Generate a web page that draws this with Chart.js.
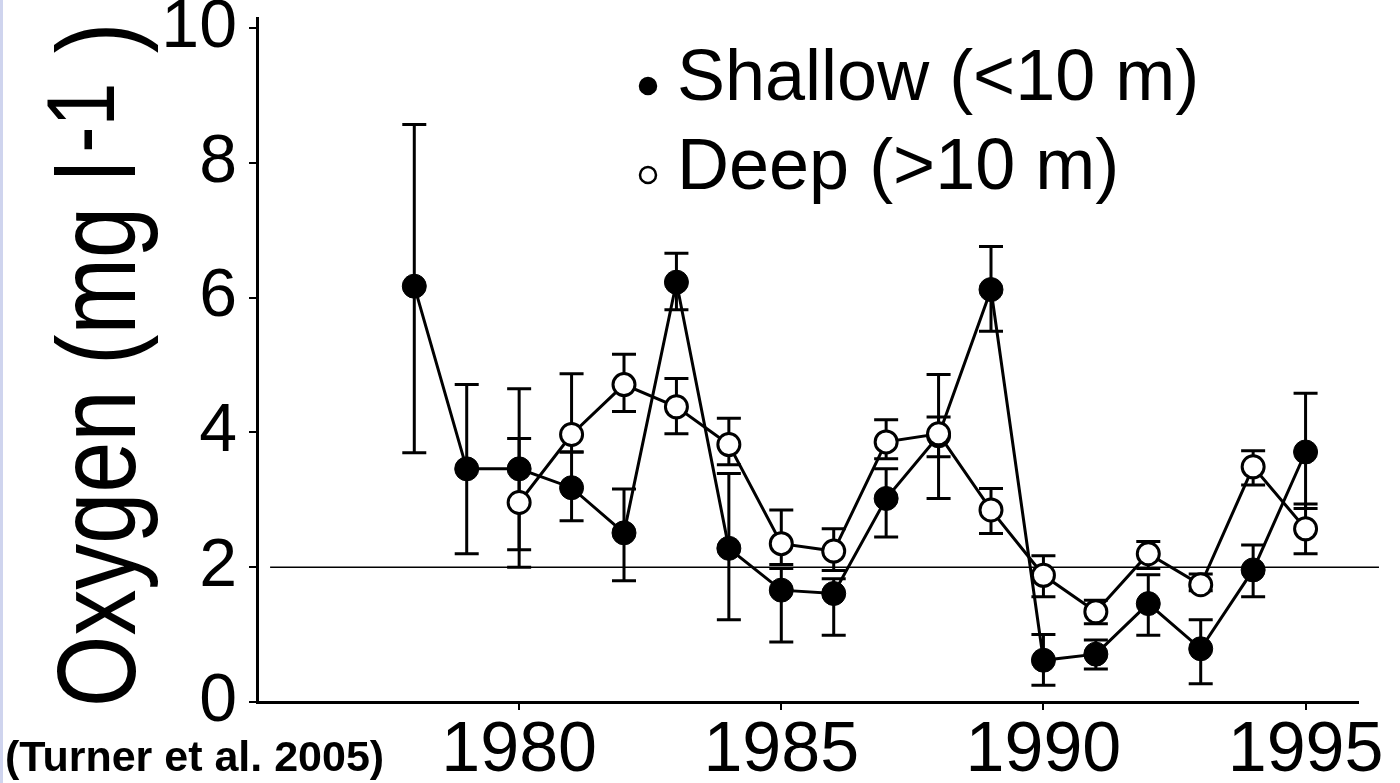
<!DOCTYPE html>
<html>
<head>
<meta charset="utf-8">
<script src="https://cdn.jsdelivr.net/npm/chart.js@4.4.0/dist/chart.umd.min.js"></script>
<style>
    html, body { margin: 0; padding: 0; background: #fff; }
    body { width: 1400px; height: 783px; overflow: hidden; border-left: 3px solid #cfd4ee; box-sizing: border-box; }
    #wrap { position: relative; width: 1397px; height: 783px; }
</style>
</head>
<body>
<div id="wrap"><canvas id="oxygenChart"></canvas></div>
<script>
// --- data ---
const shallowYears = [1978, 1979, 1980, 1981, 1982, 1983, 1984, 1985, 1986, 1987, 1988, 1989, 1990, 1991, 1992, 1993, 1994, 1995];
const shallowMean = [6.17, 3.46, 3.46, 3.18, 2.51, 6.23, 2.28, 1.66, 1.61, 3.02, 3.95, 6.12, 0.62, 0.71, 1.46, 0.79, 1.96, 3.71];
const shallowHigh = [8.57, 4.71, 4.65, 3.71, 3.16, 6.66, 3.39, 1.98, 1.83, 3.46, 4.86, 6.76, 1.00, 0.92, 1.89, 1.22, 2.33, 4.58];
const shallowLow  = [3.70, 2.20, 2.00, 2.69, 1.80, 5.82, 1.22, 0.89, 0.99, 2.45, 3.02, 5.50, 0.25, 0.49, 0.99, 0.27, 1.56, 2.87];

const deepYears = [1980, 1981, 1982, 1983, 1984, 1985, 1986, 1987, 1988, 1989, 1990, 1991, 1992, 1993, 1994, 1995];
const deepMean = [2.96, 3.97, 4.71, 4.38, 3.82, 2.35, 2.24, 3.86, 3.98, 2.85, 1.88, 1.34, 2.20, 1.74, 3.49, 2.57];
const deepHigh = [3.91, 4.87, 5.16, 4.80, 4.21, 2.85, 2.57, 4.19, 4.23, 3.17, 2.17, 1.51, 2.38, 1.90, 3.73, 2.94];
const deepLow  = [2.26, 3.71, 4.31, 3.98, 3.52, 2.04, 1.95, 3.61, 3.64, 2.50, 1.56, 1.16, 1.98, 1.65, 3.22, 2.20];

const xTicks = [1980, 1985, 1990, 1995];
const yTicks = [0, 2, 4, 6, 8, 10];
const thresholdLevel = 2;

const FONT = '"Liberation Sans", Arial, Helvetica, sans-serif';

function toPoints(xs, ys) {
    return xs.map((x, i) => ({ x: x, y: ys[i] }));
}

// error bars + threshold line, drawn under the markers
const errorBarPlugin = {
    id: 'errorBars',
    beforeDatasetsDraw(chart) {
        const ctx = chart.ctx;
        const xs = chart.scales.x, ys = chart.scales.y;
        ctx.save();

        // 2 mg/l line
        ctx.strokeStyle = '#000';
        ctx.lineWidth = 1.6;
        ctx.beginPath();
        const yl = ys.getPixelForValue(thresholdLevel);
        ctx.moveTo(xs.getPixelForValue(1975.25), yl);
        ctx.lineTo(xs.getPixelForValue(1996.4), yl);
        ctx.stroke();

        const sets = [
            [shallowYears, shallowHigh, shallowLow],
            [deepYears, deepHigh, deepLow]
        ];
        ctx.lineWidth = 3;
        const cap = 12;
        sets.forEach(([yrs, hi, lo]) => {
            yrs.forEach((yr, i) => {
                const px = xs.getPixelForValue(yr);
                const top = ys.getPixelForValue(hi[i]);
                const bot = ys.getPixelForValue(lo[i]);
                ctx.beginPath();
                ctx.moveTo(px, top); ctx.lineTo(px, bot);
                ctx.moveTo(px - cap, top); ctx.lineTo(px + cap, top);
                ctx.moveTo(px - cap, bot); ctx.lineTo(px + cap, bot);
                ctx.stroke();
            });
        });
        ctx.restore();
    }
};

// axis title with superscript, legend and citation
const textPlugin = {
    id: 'extraText',
    afterDraw(chart) {
        const ctx = chart.ctx;
        ctx.save();
        ctx.fillStyle = '#000';

        // y title, rotated; the source lettering is tall and narrow
        ctx.save();
        ctx.translate(132, 707);
        ctx.rotate(-Math.PI / 2);
        ctx.scale(0.82, 1);
        ctx.textBaseline = 'alphabetic';
        ctx.textAlign = 'left';
        ctx.font = '112px ' + FONT;
        const main = 'Oxygen (mg l';
        ctx.fillText(main, 0, 0);
        let w = ctx.measureText(main).width;
        ctx.font = '96px ' + FONT;
        ctx.fillText('-1', w + 10, -21);
        w += ctx.measureText('-1').width + 46;
        ctx.font = '112px ' + FONT;
        ctx.fillText(')', w, 0);
        ctx.restore();

        // legend
        const rows = [
            { label: chart.data.datasets[0].label, filled: true, y: 100 },
            { label: chart.data.datasets[1].label, filled: false, y: 189 }
        ];
        ctx.font = '72px ' + FONT;
        ctx.textBaseline = 'alphabetic';
        rows.forEach(r => {
            ctx.beginPath();
            ctx.arc(645, r.y - 14, 8, 0, Math.PI * 2);
            ctx.fillStyle = r.filled ? '#000' : '#fff';
            ctx.fill();
            ctx.lineWidth = 2.5;
            ctx.strokeStyle = '#000';
            ctx.stroke();
            ctx.fillStyle = '#000';
            ctx.fillText(r.label, 674, r.y);
        });

        // citation
        ctx.font = 'bold 43px ' + FONT;
        ctx.fillText('(Turner et al. 2005)', 2, 771);
        ctx.restore();
    }
};

function buildChart() {
    const el = document.getElementById('oxygenChart');
    new Chart(el, {
        type: 'line',
        data: {
            datasets: [
                {
                    label: 'Shallow (<10 m)',
                    data: toPoints(shallowYears, shallowMean),
                    borderColor: '#000',
                    borderWidth: 3,
                    pointStyle: 'circle',
                    pointRadius: 12,
                    pointBackgroundColor: '#000',
                    pointBorderColor: '#000',
                    pointBorderWidth: 1,
                    tension: 0,
                    clip: false,
                    order: 2
                },
                {
                    label: 'Deep (>10 m)',
                    data: toPoints(deepYears, deepMean),
                    borderColor: '#000',
                    borderWidth: 3,
                    pointStyle: 'circle',
                    pointRadius: 11,
                    pointBackgroundColor: '#fff',
                    pointBorderColor: '#000',
                    pointBorderWidth: 3,
                    tension: 0,
                    clip: false,
                    order: 1
                }
            ]
        },
        options: {
            responsive: false,
            animation: false,
            events: [],
            layout: { padding: { top: 18, right: 42, left: 0, bottom: 0 } },
            plugins: { legend: { display: false }, tooltip: { enabled: false } },
            scales: {
                x: {
                    type: 'linear',
                    min: 1975,
                    max: 1996,
                    afterBuildTicks: s => { s.ticks = xTicks.map(v => ({ value: v })); },
                    afterFit: s => { s.height = 81; s.paddingLeft = 0; s.paddingRight = 0; },
                    grid: { drawOnChartArea: false, drawTicks: true, tickLength: 8, color: '#000', lineWidth: 2 },
                    border: { display: true, color: '#000', width: 3 },
                    ticks: {
                        color: '#000',
                        font: { family: FONT, size: 70 },
                        padding: 0,
                        maxRotation: 0,
                        callback: v => String(v)
                    }
                },
                y: {
                    type: 'linear',
                    min: 0,
                    max: 10.15,
                    afterBuildTicks: s => { s.ticks = yTicks.map(v => ({ value: v })); },
                    afterFit: s => { s.width = 254; s.paddingTop = 0; s.paddingBottom = 0; },
                    grid: { drawOnChartArea: false, drawTicks: true, tickLength: 8, color: '#000', lineWidth: 2 },
                    border: { display: true, color: '#000', width: 3 },
                    ticks: {
                        color: '#000',
                        font: { family: FONT, size: 68 },
                        padding: 12,
                        callback: v => String(v)
                    }
                }
            }
        },
        plugins: [errorBarPlugin, textPlugin]
    });
}

const c = document.getElementById('oxygenChart');
c.width = 1397; c.height = 783;
c.style.width = '1397px'; c.style.height = '783px';
buildChart();
</script>
</body>
</html>
